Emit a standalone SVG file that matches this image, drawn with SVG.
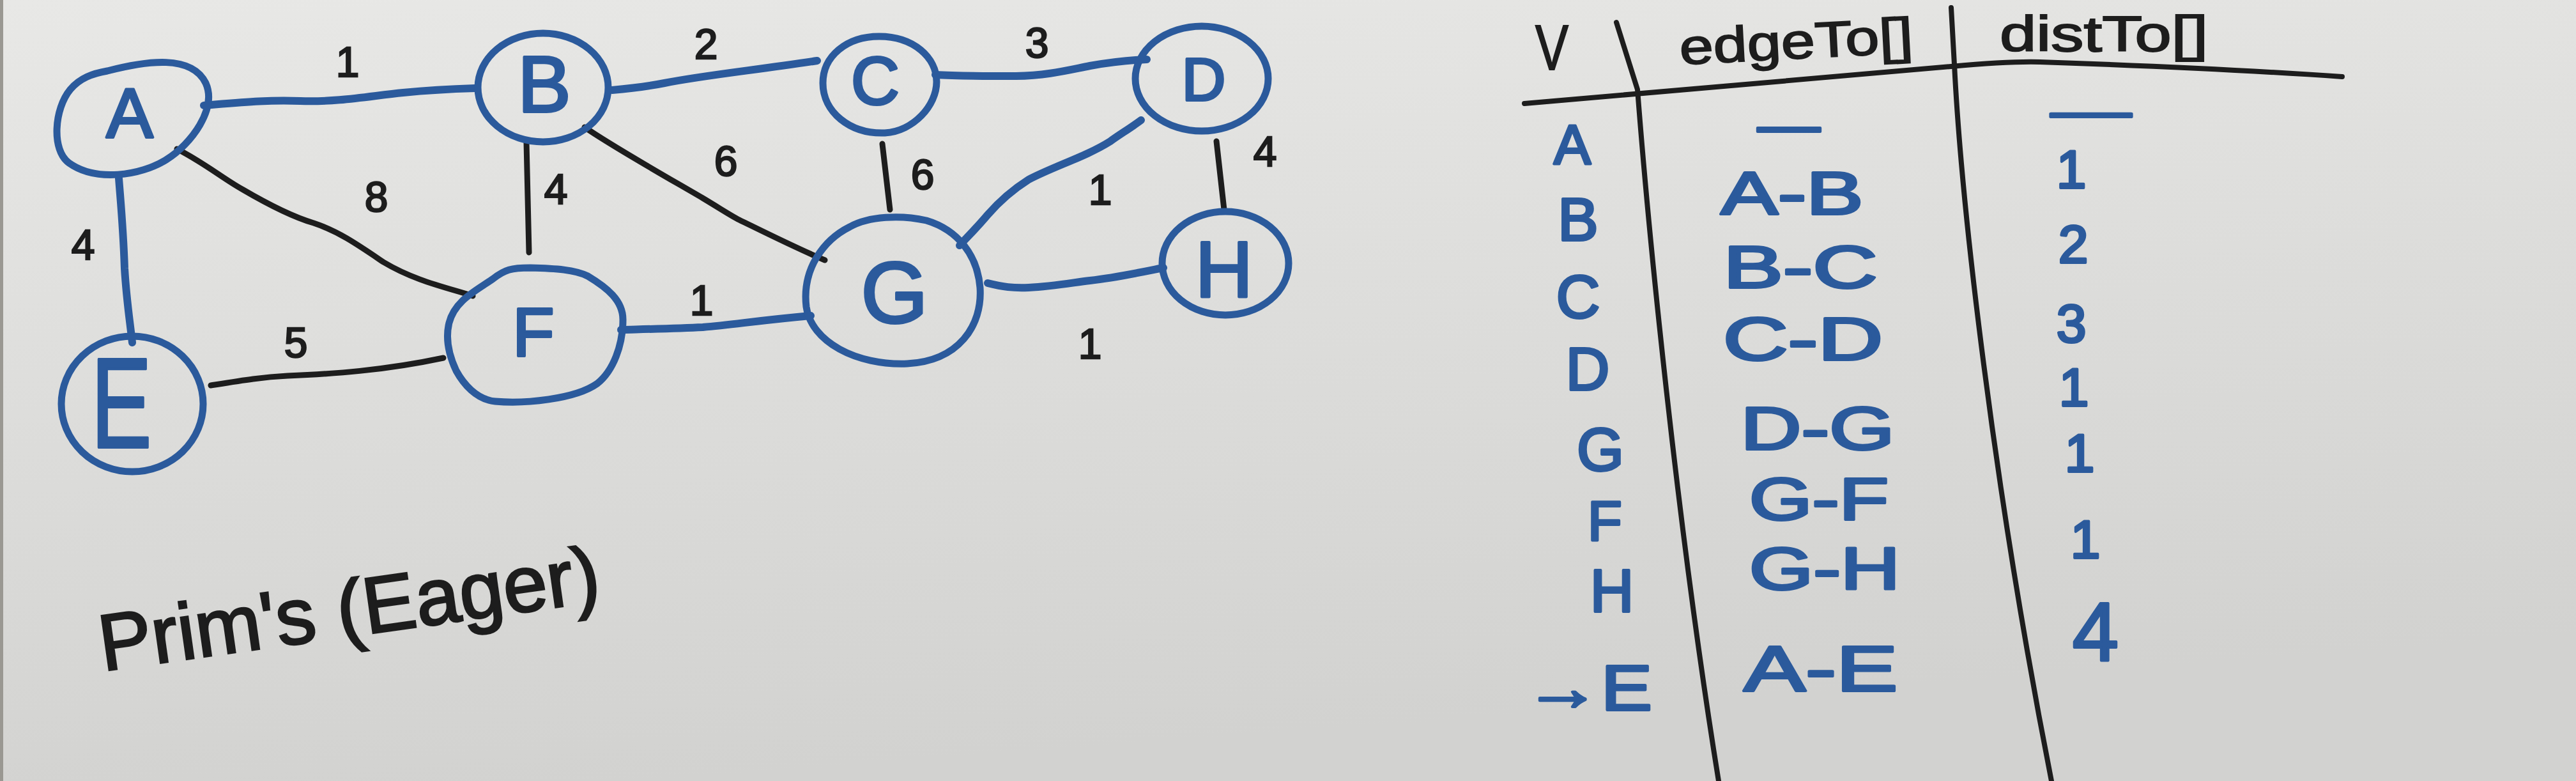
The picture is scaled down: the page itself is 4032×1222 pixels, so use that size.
<svg xmlns="http://www.w3.org/2000/svg" width="4032" height="1222" viewBox="0 0 4032 1222">
<defs>
<linearGradient id="bg" x1="0" y1="0" x2="0.25" y2="1">
<stop offset="0" stop-color="#e8e8e6"/>
<stop offset="1" stop-color="#d2d2d0"/>
</linearGradient>
<style>
.node{fill:none;stroke:#2b5a9c;stroke-width:11;stroke-linejoin:round}
.nl{font-family:"Liberation Sans",Arial,sans-serif;fill:#2b5a9c;stroke:#2b5a9c;stroke-width:4;stroke-linejoin:round;text-anchor:middle;dominant-baseline:central}
.be{fill:none;stroke:#2b5a9c;stroke-width:12;stroke-linecap:round;stroke-linejoin:round}
.ke{fill:none;stroke:#1d1d1d;stroke-width:9;stroke-linecap:round;stroke-linejoin:round}
.lbl{font-family:"Liberation Sans",Arial,sans-serif;font-size:66px;fill:#1d1d1d;stroke:#1d1d1d;stroke-width:2.5;text-anchor:middle;dominant-baseline:central}
.hd{font-family:"Liberation Sans",Arial,sans-serif;fill:#1d1d1d;stroke:#1d1d1d;stroke-width:2}
.tl{fill:none;stroke:#1d1d1d;stroke-width:8;stroke-linecap:round;stroke-linejoin:round}
.tv{font-family:"Liberation Sans",Arial,sans-serif;fill:#2b5a9c;stroke:#2b5a9c;stroke-width:4;stroke-linejoin:round;text-anchor:middle;dominant-baseline:central}
.title{font-family:"Liberation Sans",Arial,sans-serif;font-size:125px;fill:#1d1d1d;stroke:#1d1d1d;stroke-width:3}
</style>
</defs>
<rect x="0" y="0" width="4032" height="1222" fill="url(#bg)"/>
<rect x="0" y="0" width="5" height="1222" fill="#9a9892"/>

<g id="connectors">
<path class="be" d="M319,165 C380,160 420,156 470,158 C530,160 580,150 631,145 C680,140 710,139 744,138"/>
<path class="be" d="M186,279 C190,330 193,360 195,420 C198,470 203,500 207,536"/>
<path class="ke" d="M277,233 C320,255 350,280 379,296 C420,320 460,340 491,349 C530,362 560,383 600,410 C650,440 700,450 740,463"/>
<path class="ke" d="M824,223 L828,395"/>
<path class="ke" d="M330,603 C380,595 410,590 450,588 C520,585 600,580 694,560"/>
<path class="be" d="M958,141 C990,138 1010,136 1040,130 C1100,118 1180,110 1279,95"/>
<path class="ke" d="M915,199 C960,230 1040,275 1100,310 C1130,328 1145,338 1157,344 C1200,365 1250,390 1291,407"/>
<path class="be" d="M1464,117 C1500,119 1546,119 1590,119 C1640,118 1670,110 1706,103 C1740,97 1770,94 1795,93"/>
<path class="ke" d="M1381,225 L1393,328"/>
<path class="be" d="M1786,188 C1770,200 1750,212 1738,221 C1700,245 1650,260 1610,281 C1580,300 1560,320 1546,336 C1530,355 1515,370 1502,384"/>
<path class="ke" d="M1904,221 L1916,328"/>
<path class="be" d="M1546,443 C1570,449 1585,451 1610,450 C1650,448 1680,442 1706,439 C1750,434 1790,425 1821,419"/>
<path class="be" d="M972,516 C1010,515 1060,514 1100,512 C1150,508 1180,502 1269,494"/>
</g>

<g id="edge-labels">
<text class="lbl" x="544" y="97">1</text>
<text class="lbl" x="130" y="383">4</text>
<text class="lbl" x="589" y="308">8</text>
<text class="lbl" x="870" y="296">4</text>
<text class="lbl" x="463" y="536">5</text>
<text class="lbl" x="1098" y="470">1</text>
<text class="lbl" x="1105" y="69">2</text>
<text class="lbl" x="1623" y="67">3</text>
<text class="lbl" x="1136" y="252">6</text>
<text class="lbl" x="1444" y="273">6</text>
<text class="lbl" x="1722" y="297">1</text>
<text class="lbl" x="1980" y="237">4</text>
<text class="lbl" x="1706" y="538">1</text>
</g>

<g id="node-A">
<path class="node" d="M168,111 C230,95 300,85 322,130 C340,170 300,225 260,250 C220,275 150,285 108,255 C80,235 85,170 110,140 C125,122 145,115 168,111 Z"/>
<text class="nl" x="203" y="176" font-size="110">A</text>
</g>
<g id="node-B">
<ellipse class="node" cx="850" cy="137" rx="102" ry="85"/>
<text class="nl" x="852" y="131" font-size="125">B</text>
</g>
<g id="node-C">
<path class="node" d="M1376,57 C1430,57 1466,90 1466,128 C1466,165 1430,205 1385,208 C1330,210 1288,175 1288,130 C1288,88 1325,57 1376,57 Z"/>
<text class="nl" x="1370" y="126" font-size="105">C</text>
</g>
<g id="node-D">
<ellipse class="node" cx="1881" cy="123" rx="104" ry="82"/>
<text class="nl" x="1884" y="124" font-size="95">D</text>
</g>
<g id="node-E">
<ellipse class="node" cx="207" cy="632" rx="111" ry="106"/>
<text class="nl" x="190" y="630" font-size="200" textLength="95" lengthAdjust="spacingAndGlyphs">E</text>
</g>
<g id="node-F">
<path class="node" d="M772,436 C790,422 800,419 830,419 C870,420 900,422 920,432 C950,450 975,470 975,500 C975,540 960,580 935,600 C900,625 820,632 775,628 C745,625 725,600 714,580 C700,550 698,525 703,505 C712,470 745,455 772,436 Z"/>
<text class="nl" x="835" y="520" font-size="107">F</text>
</g>
<g id="node-G">
<path class="node" d="M1330,355 C1360,338 1410,336 1450,345 C1500,360 1530,400 1534,450 C1538,510 1500,565 1420,569 C1340,572 1270,535 1262,480 C1255,420 1290,375 1330,355 Z"/>
<text class="nl" x="1400" y="458" font-size="135">G</text>
</g>
<g id="node-H">
<ellipse class="node" cx="1918" cy="412" rx="99" ry="81"/>
<text class="nl" x="1916" y="421" font-size="125">H</text>
</g>

<g id="table">
<path class="tl" d="M2530,35 L2563,140 C2580,360 2625,820 2690,1222"/>
<path class="tl" d="M3054,12 L3059,101 C3070,320 3120,760 3211,1222"/>
<path class="tl" d="M2386,162 L3054,104 C3120,98 3160,96 3193,97 C3400,104 3550,112 3666,120"/>
<text class="hd" x="2403" y="109" font-size="100" textLength="52" lengthAdjust="spacingAndGlyphs">V</text>
<text class="hd" x="2630" y="101" font-size="78" textLength="366" lengthAdjust="spacingAndGlyphs" transform="rotate(-3 2630 101)">edgeTo[]</text>
<text class="hd" x="3130" y="80" font-size="78" textLength="326" lengthAdjust="spacingAndGlyphs">distTo[]</text>

<text class="tv" x="2461" y="226" font-size="87">A</text>
<text class="tv" x="2470" y="343" font-size="95">B</text>
<text class="tv" x="2470" y="464" font-size="95">C</text>
<text class="tv" x="2485" y="577" font-size="95">D</text>
<text class="tv" x="2505" y="703" font-size="95">G</text>
<text class="tv" x="2512" y="814" font-size="88">F</text>
<text class="tv" x="2523" y="924" font-size="95">H</text>
<text class="tv" x="2486" y="1076" font-size="100" textLength="200" lengthAdjust="spacingAndGlyphs">→E</text>

<text class="tv" x="2800" y="195" font-size="90" textLength="98" lengthAdjust="spacingAndGlyphs">—</text>
<text class="tv" x="2805" y="302" font-size="95" textLength="223" lengthAdjust="spacingAndGlyphs">A-B</text>
<text class="tv" x="2818" y="418" font-size="92" textLength="241" lengthAdjust="spacingAndGlyphs">B-C</text>
<text class="tv" x="2822" y="530" font-size="95" textLength="250" lengthAdjust="spacingAndGlyphs">C-D</text>
<text class="tv" x="2845" y="670" font-size="95" textLength="241" lengthAdjust="spacingAndGlyphs">D-G</text>
<text class="tv" x="2847" y="781" font-size="92" textLength="218" lengthAdjust="spacingAndGlyphs">G-F</text>
<text class="tv" x="2856" y="890" font-size="92" textLength="236" lengthAdjust="spacingAndGlyphs">G-H</text>
<text class="tv" x="2850" y="1046" font-size="100" textLength="241" lengthAdjust="spacingAndGlyphs">A-E</text>

<text class="tv" x="3273" y="173" font-size="80" textLength="125" lengthAdjust="spacingAndGlyphs">—</text>
<text class="tv" x="3242" y="265" font-size="84">1</text>
<text class="tv" x="3245" y="382" font-size="84">2</text>
<text class="tv" x="3242" y="506" font-size="84">3</text>
<text class="tv" x="3246" y="606" font-size="84">1</text>
<text class="tv" x="3255" y="709" font-size="84">1</text>
<text class="tv" x="3264" y="844" font-size="84">1</text>
<text class="tv" x="3280" y="988" font-size="130">4</text>
</g>

<text class="title" x="161" y="1050" textLength="790" lengthAdjust="spacingAndGlyphs" transform="rotate(-8 161 1050)">Prim's (Eager)</text>
</svg>
